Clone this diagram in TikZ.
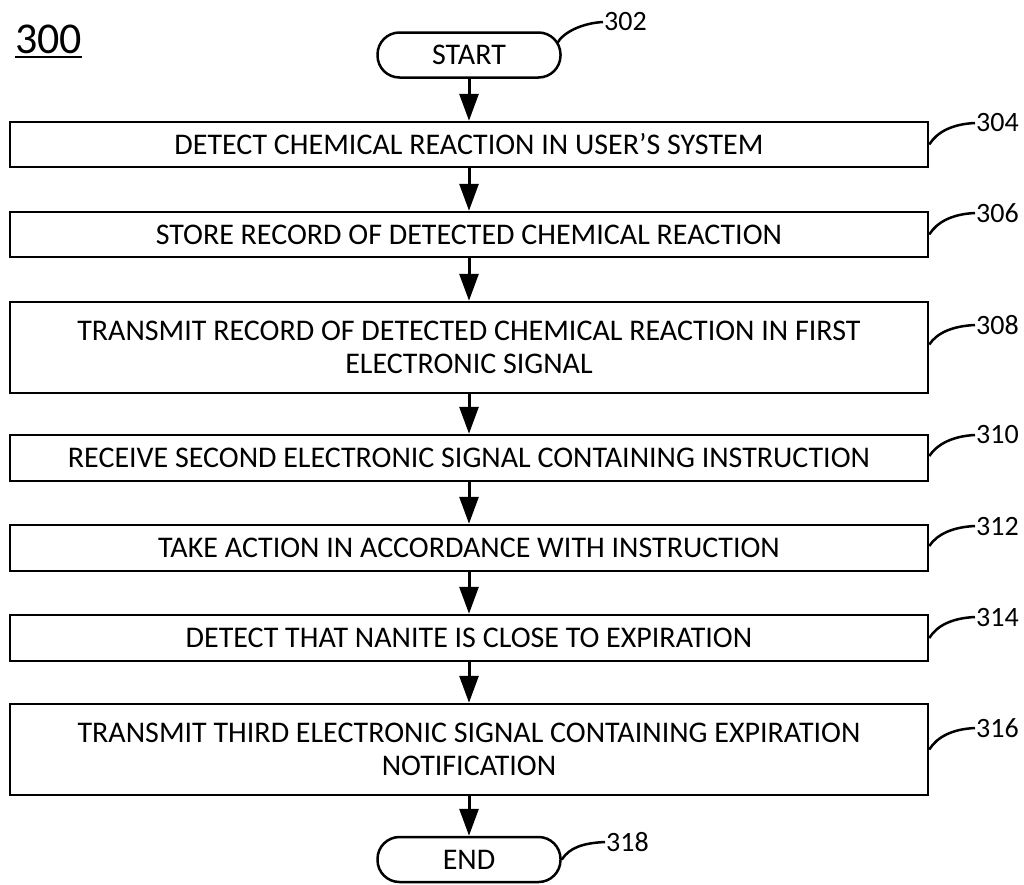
\documentclass[tikz,border=0pt]{standalone}
\usepackage{fontspec}
\setmainfont{Carlito}
\usetikzlibrary{arrows.meta}
\begin{document}
\begin{tikzpicture}[x=1pt,y=-1pt,
  txt/.style={font=\fontsize{30}{33}\selectfont},
  stepbox/.style={draw, line width=2.5pt, minimum width=918pt, inner sep=0pt, align=center, txt},
  term/.style={draw, line width=2.5pt, rounded corners=22pt, minimum width=183pt, minimum height=45pt, inner sep=0pt, txt},
  arr/.style={line width=3pt, -{Triangle[length=27pt,width=19pt]}},
  lead/.style={line width=2.5pt},
  lbl/.style={font=\fontsize{28}{28}\selectfont, inner sep=1pt}
]
\useasboundingbox (0,0) rectangle (1024,884);

\node[font=\fontsize{44}{44}\selectfont, inner sep=0pt, anchor=base west] (fig) at (15,53) {300};
\draw[line width=2.5pt] ([yshift=-4pt]fig.base west) -- ([yshift=-4pt]fig.base east);

\node[term] (start) at (469,55) {START};
\node[stepbox, minimum height=45pt] (n304) at (469,144.5) {DETECT CHEMICAL REACTION IN USER'S SYSTEM};
\node[stepbox, minimum height=45pt] (n306) at (469,234.5) {STORE RECORD OF DETECTED CHEMICAL REACTION};
\node[stepbox, minimum height=91pt] (n308) at (469,347.5) {TRANSMIT RECORD OF DETECTED CHEMICAL REACTION IN FIRST\\ELECTRONIC SIGNAL};
\node[stepbox, minimum height=46pt] (n310) at (469,458) {RECEIVE SECOND ELECTRONIC SIGNAL CONTAINING INSTRUCTION};
\node[stepbox, minimum height=46pt] (n312) at (469,548) {TAKE ACTION IN ACCORDANCE WITH INSTRUCTION};
\node[stepbox, minimum height=46pt] (n314) at (469,638) {DETECT THAT NANITE IS CLOSE TO EXPIRATION};
\node[stepbox, minimum height=91pt] (n316) at (469,749.5) {TRANSMIT THIRD ELECTRONIC SIGNAL CONTAINING EXPIRATION\\NOTIFICATION};
\node[term] (end) at (469,859.5) {END};

\draw[arr] (start) -- (n304);
\draw[arr] (n304) -- (n306);
\draw[arr] (n306) -- (n308);
\draw[arr] (n308) -- (n310);
\draw[arr] (n310) -- (n312);
\draw[arr] (n312) -- (n314);
\draw[arr] (n314) -- (n316);
\draw[arr] (n316) -- (end);

\node[lbl, anchor=west] (l302) at (603,22) {302};
\node[lbl, anchor=west] (l304) at (975,123) {304};
\node[lbl, anchor=west] (l306) at (975,213) {306};
\node[lbl, anchor=west] (l308) at (975,325) {308};
\node[lbl, anchor=west] (l310) at (975,435) {310};
\node[lbl, anchor=west] (l312) at (975,526) {312};
\node[lbl, anchor=west] (l314) at (975,617) {314};
\node[lbl, anchor=west] (l316) at (975,728) {316};
\node[lbl, anchor=west] (l318) at (605,842) {318};

\draw[lead] ([shift={(-5,-11)}]start.east) .. controls +(6,-12) and +(-20,1) .. (l302.west);
\draw[lead] (n304.east) .. controls +(8,-13) and +(-22,1) .. (l304.west);
\draw[lead] (n306.east) .. controls +(8,-13) and +(-22,1) .. (l306.west);
\draw[lead] ([yshift=3pt]n308.east) .. controls +(8,-12) and +(-22,1) .. (l308.west);
\draw[lead] ([yshift=2pt]n310.east) .. controls +(8,-12) and +(-22,1) .. (l310.west);
\draw[lead] ([yshift=2pt]n312.east) .. controls +(8,-12) and +(-22,1) .. (l312.west);
\draw[lead] (n314.east) .. controls +(8,-13) and +(-22,1) .. (l314.west);
\draw[lead] (n316.east) .. controls +(8,-13) and +(-22,1) .. (l316.west);
\draw[lead] (end.east) .. controls +(8,-12) and +(-22,1) .. (l318.west);
\end{tikzpicture}
\end{document}
